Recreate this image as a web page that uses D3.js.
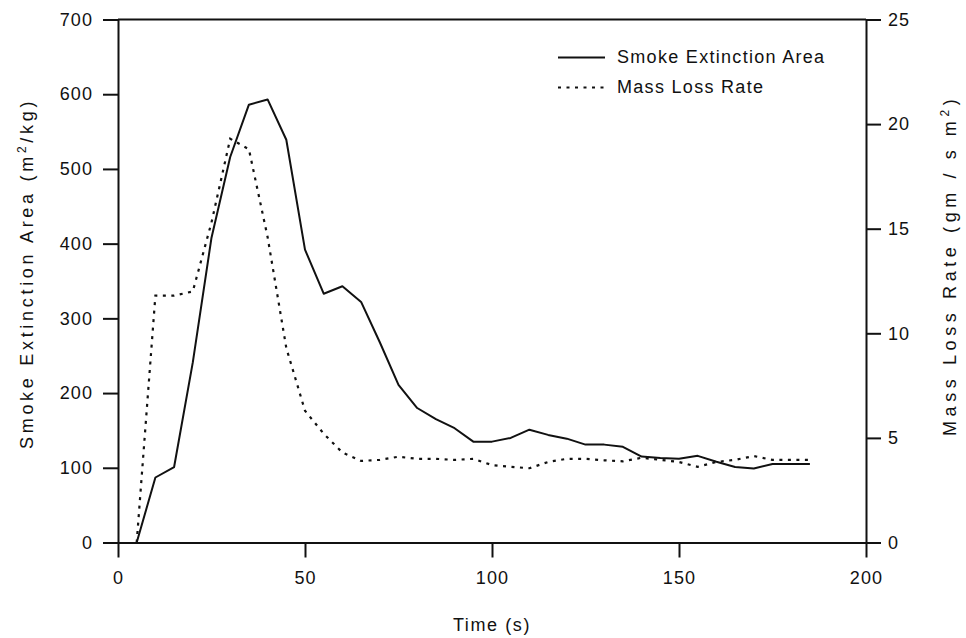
<!DOCTYPE html>
<html>
<head>
<meta charset="utf-8">
<script src="https://cdn.jsdelivr.net/npm/d3@7"></script>
<style>
  html, body { margin: 0; padding: 0; background: #fff; }
  svg { display: block; }
  text { font-family: "Liberation Sans", Arial, sans-serif; fill: #111; }
</style>
</head>
<body>
<svg id="chart" width="966" height="638"></svg>
<script>
// ---- data ----
const time = [5,10,15,20,25,30,35,40,45,50,55,60,65,70,75,80,85,90,95,100,105,110,115,120,125,130,135,140,145,150,155,160,165,170,175,180,185];
const smokeArea = [0,87,101,241,408,516,586,593,539,392,333,343,322,268,211,180,165,153,135,135,140,151,144,139,131,131,128,115,113,112,116,108,101,99,105,105,105];
const massLoss = [0,11.8,11.8,12.0,15.3,19.3,18.8,14.6,9.3,6.3,5.2,4.3,3.9,3.95,4.1,4.0,4.0,3.95,4.0,3.7,3.62,3.55,3.85,4.0,4.0,3.93,3.88,4.05,3.95,3.85,3.62,3.85,3.95,4.13,3.95,3.95,3.95];
const xTicks = [0,50,100,150,200];
const leftTicks = [0,100,200,300,400,500,600,700];
const rightTicks = [0,5,10,15,20,25];
const seriesNames = ["Smoke Extinction Area", "Mass Loss Rate"];

// ---- layout ----
const svg = d3.select("#chart");
const L = 118, R = 866, T = 19.5, B = 542.5;
const x = d3.scaleLinear().domain([0,200]).range([L,R]);
const yL = d3.scaleLinear().domain([0,700]).range([B,T]);
const yR = d3.scaleLinear().domain([0,25]).range([B,T]);
const ink = "#111";
const fs = 18, ls = 1.1;

function styleAxis(g) {
  g.selectAll("path.domain").attr("stroke", ink).attr("stroke-width", 2);
  g.selectAll(".tick line").attr("stroke", ink).attr("stroke-width", 2);
  g.selectAll(".tick text").attr("font-size", fs).attr("font-family", '"Liberation Sans", Arial, sans-serif')
    .attr("fill", ink).style("letter-spacing", ls + "px");
}

// top frame line
svg.append("line").attr("x1", L).attr("x2", R).attr("y1", T).attr("y2", T)
  .attr("stroke", ink).attr("stroke-width", 2);

const gx = svg.append("g").attr("transform", `translate(0,${B})`)
  .call(d3.axisBottom(x).tickValues(xTicks).tickSize(15).tickSizeOuter(0).tickPadding(14));
styleAxis(gx);

const gl = svg.append("g").attr("transform", `translate(${L},0)`)
  .call(d3.axisLeft(yL).tickValues(leftTicks).tickSize(15).tickSizeOuter(0).tickPadding(10));
styleAxis(gl);

const gr = svg.append("g").attr("transform", `translate(${R},0)`)
  .call(d3.axisRight(yR).tickValues(rightTicks).tickSize(15).tickSizeOuter(0).tickPadding(7));
styleAxis(gr);

// ---- lines ----
const solidLine = d3.line().x((d,i) => x(time[i])).y(d => yL(d));
const dotLine = d3.line().x((d,i) => x(time[i])).y(d => yR(d));

svg.append("path").datum(smokeArea).attr("d", solidLine)
  .attr("fill", "none").attr("stroke", ink).attr("stroke-width", 2).attr("stroke-linejoin", "round");
svg.append("path").datum(massLoss).attr("d", dotLine)
  .attr("fill", "none").attr("stroke", ink).attr("stroke-width", 2.2).attr("stroke-dasharray", "3,5.5");

// ---- axis titles ----
svg.append("text").attr("x", (L+R)/2).attr("y", 631).attr("text-anchor", "middle")
  .attr("font-size", fs).style("letter-spacing", "1.6px").text("Time (s)");

const lt = svg.append("text").attr("transform", "translate(33,449) rotate(-90)")
  .attr("text-anchor", "start").attr("font-size", fs).style("letter-spacing", "3.7px");
lt.append("tspan").text("Smoke Extinction Area (m");
lt.append("tspan").attr("font-size", 12).attr("dy", -7).text("2");
lt.append("tspan").attr("dy", 7).text("/kg)");

const rt = svg.append("text").attr("transform", "translate(956,436) rotate(-90)")
  .attr("text-anchor", "start").attr("font-size", fs).style("letter-spacing", "4.6px");
rt.append("tspan").text("Mass Loss Rate (gm / s m");
rt.append("tspan").attr("font-size", 12).attr("dy", -7).text("2");
rt.append("tspan").attr("dy", 7).text(")");

// ---- legend ----
const legend = svg.append("g");
legend.append("line").attr("x1", 558).attr("x2", 605).attr("y1", 57.5).attr("y2", 57.5)
  .attr("stroke", ink).attr("stroke-width", 2);
legend.append("line").attr("x1", 558).attr("x2", 605).attr("y1", 87.5).attr("y2", 87.5)
  .attr("stroke", ink).attr("stroke-width", 2.2).attr("stroke-dasharray", "3,5.5");
legend.append("text").attr("x", 617).attr("y", 63).attr("font-size", fs)
  .style("letter-spacing", "1.3px").text(seriesNames[0]);
legend.append("text").attr("x", 617).attr("y", 93).attr("font-size", fs)
  .style("letter-spacing", "1.3px").text(seriesNames[1]);
</script>
</body>
</html>
